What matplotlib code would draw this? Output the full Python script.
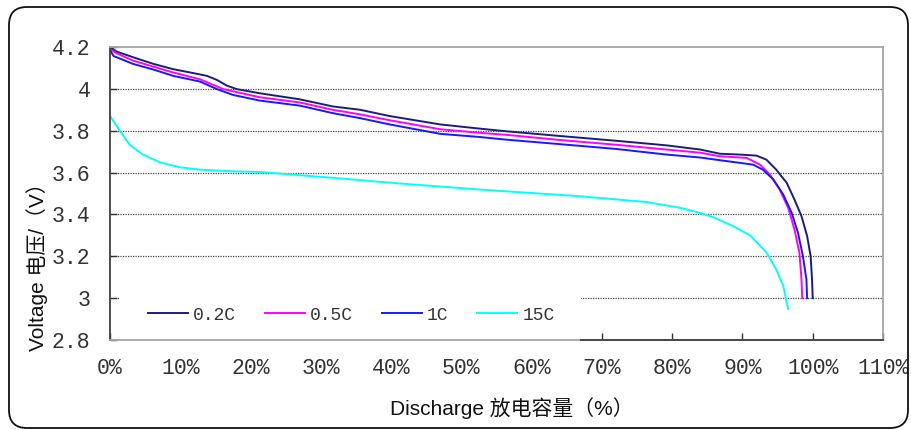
import matplotlib
matplotlib.use("Agg")
import matplotlib.pyplot as plt
from matplotlib.patches import FancyBboxPatch, Rectangle
from matplotlib.ticker import FixedLocator

# ---------------- data ----------------
x_02c = [0, 0.95, 3.3, 6.2, 9, 11.9, 13.8, 15.2, 16.6, 18, 21.3, 27, 31.7, 35.6, 39.8, 47,
         52.6, 56.5, 63.6, 72, 79.2, 84, 86.8, 89.6, 92.0, 93.4, 94.8, 96.3, 97.4, 98.4,
         99.2, 99.7, 99.9, 100]
y_02c = [4.2, 4.178, 4.151, 4.119, 4.094, 4.075, 4.062, 4.043, 4.016, 3.999, 3.979, 3.95,
         3.916, 3.9, 3.87, 3.83, 3.81, 3.797, 3.776, 3.752, 3.73, 3.71, 3.69, 3.686, 3.681,
         3.662, 3.614, 3.551, 3.471, 3.392, 3.297, 3.201, 3.09, 3.0]

x_05c = [0, 0.95, 3.3, 9, 12.8, 14.7, 16.1, 21.3, 27, 31.7, 35.6, 39.8, 47, 52.6, 56.5,
         63.6, 72, 79.2, 84, 86.8, 90.6, 92.5, 93.9, 95.3, 96.5, 97.4, 98.1, 98.4, 98.5]
y_05c = [4.19, 4.17, 4.135, 4.078, 4.046, 4.019, 3.999, 3.96, 3.935, 3.90, 3.878, 3.85,
         3.807, 3.79, 3.78, 3.757, 3.733, 3.71, 3.695, 3.678, 3.67, 3.638, 3.59, 3.519,
         3.432, 3.329, 3.218, 3.09, 3.0]

x_1c = [0, 0.5, 3.3, 6.2, 9, 12.8, 15.2, 17.5, 21.3, 27, 31.7, 35.6, 39.8, 47, 52.6, 56.5,
        63.6, 72, 79.2, 84, 86.8, 91.5, 92.9, 94.4, 95.8, 97.0, 97.9, 98.6, 99.1, 99.2]
y_1c = [4.186, 4.157, 4.119, 4.092, 4.062, 4.035, 3.999, 3.971, 3.944, 3.92, 3.884, 3.86,
        3.83, 3.785, 3.77, 3.757, 3.737, 3.713, 3.686, 3.672, 3.659, 3.638, 3.614, 3.567,
        3.495, 3.408, 3.313, 3.201, 3.09, 3.0]

x_15c = [0, 1.4, 2.8, 4.7, 7.1, 10, 12.8, 17.5, 21.3, 31.7, 41.2, 52.6, 66.9, 76.4, 81.1,
         83.9, 86.0, 88.7, 91.1, 93.4, 94.8, 95.8, 96.5]
y_15c = [3.871, 3.80, 3.733, 3.686, 3.649, 3.625, 3.614, 3.606, 3.603, 3.575, 3.548, 3.519,
         3.487, 3.459, 3.432, 3.408, 3.385, 3.344, 3.30, 3.219, 3.138, 3.059, 2.948]

series_labels = ["0.2C", "0.5C", "1C", "15C"]
series_colors = ["#1c1c80", "#ff00ff", "#1818ff", "#00ffff"]

x_ticks = [0, 10, 20, 30, 40, 50, 60, 70, 80, 90, 100, 110]
x_ticklabels = ["0%", "10%", "20%", "30%", "40%", "50%", "60%", "70%", "80%", "90%", "100%", "110%"]
y_ticks = [2.8, 3.0, 3.2, 3.4, 3.6, 3.8, 4.0, 4.2]
y_ticklabels = ["2.8", "3", "3.2", "3.4", "3.6", "3.8", "4", "4.2"]

xlabel = "Discharge 放电容量（%）"
ylabel = "Voltage 电压/（V）"

# ---------------- figure ----------------
W, H = 911, 430
fig = plt.figure(figsize=(W / 100, H / 100), dpi=100)
fig.patch.set_facecolor("white")

# outer rounded frame
frame = FancyBboxPatch((9, 2), 899, 421, boxstyle="round,pad=0,rounding_size=18",
                       transform=None, facecolor="none", edgecolor="#111111", linewidth=1.3)
fig.patches.append(frame)

ax = fig.add_axes([110 / W, 90 / H, 773 / W, 293 / H])
ax.set_axisbelow(True)

xs = [x_02c, x_05c, x_1c, x_15c]
ys = [y_02c, y_05c, y_1c, y_15c]
handles = []
for xv, yv, c, lab in zip(xs, ys, series_colors, series_labels):
    h, = ax.plot(xv, yv, color=c, linewidth=1.4, label=lab, solid_joinstyle="round")
    handles.append(h)

ax.set_xlim(0, 110)
ax.set_ylim(2.8, 4.2)
ax.xaxis.set_major_locator(FixedLocator(x_ticks))
ax.yaxis.set_major_locator(FixedLocator(y_ticks))
tick_font = dict(family="Liberation Mono", size=15.5, color="#333333")
ax.set_xticklabels(x_ticklabels, **tick_font)
ax.set_yticklabels(y_ticklabels, **tick_font)
ax.tick_params(axis="x", direction="in", length=5, width=1.0, color="#333333", pad=13)
ax.tick_params(axis="y", direction="in", length=5, width=1.0, color="#333333", pad=14)

# gridlines (dotted) only on interior values
for gv in y_ticks[1:-1]:
    ax.axhline(gv, color="#444444", linewidth=0.9, linestyle=(0, (1, 1)), zorder=0.5)

for side in ["top", "right", "bottom"]:
    ax.spines[side].set_color("#a6a6a6")
    ax.spines[side].set_linewidth(1.3)
ax.spines["left"].set_color("#404040")
ax.spines["left"].set_linewidth(1.3)

# white legend area
legend_box = Rectangle((0.012, 0.0), 0.597, 0.19, transform=ax.transAxes,
                       facecolor="white", edgecolor="none", zorder=2.2)
ax.add_patch(legend_box)
# darker x axis line to the right of the legend area
ax.plot([0.609, 1.0], [0, 0], transform=ax.transAxes, color="#404040",
        linewidth=1.3, zorder=3, clip_on=False)

leg = ax.legend(handles=handles, loc="center left", bbox_to_anchor=(0.049, 0.085),
                ncol=4, frameon=False, borderpad=0, borderaxespad=0,
                handlelength=2.2, handletextpad=0.3, columnspacing=1.6,
                prop=dict(family="Liberation Mono", size=13))
leg.set_zorder(3)
for t in leg.get_texts():
    t.set_color("#333333")

fam = ["Liberation Sans", "Noto Sans CJK SC"]
fig.text(37 / W, 1 - 262 / H, ylabel, rotation=90, ha="center", va="center",
         family=fam, size=15, color="#111111")
fig.text(512 / W, 1 - 408 / H, xlabel, ha="center", va="center",
         family=fam, size=15, color="#111111")

fig.savefig("out.png", dpi=100, facecolor="white")
